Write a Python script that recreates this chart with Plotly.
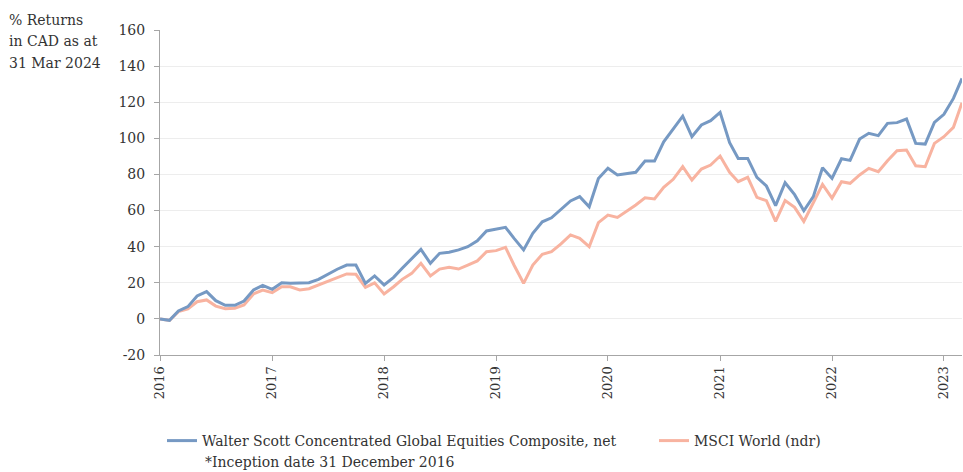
import pandas as pd
import plotly.graph_objects as go

dates = pd.date_range("2016-01-01", periods=87, freq="MS")

walter_scott = [0, -0.8, 4.4, 6.8, 12.7, 15.1, 10.1, 7.5, 7.5, 9.9,
                16.0, 18.6, 16.4, 20.0, 19.7, 19.7, 20.0, 21.9, 24.7, 27.5,
                29.8, 29.8, 19.7, 23.8, 18.8, 23.0, 28.0, 33.5, 38.5, 30.8,
                36.3, 36.9, 38.2, 40.0, 43.3, 48.7, 49.8, 50.7, 44.6, 38.2,
                47.4, 53.8, 56.0, 60.7, 65.3, 67.7, 62.1, 77.8, 83.4, 79.7,
                80.6, 81.2, 87.4, 87.4, 98.1, 105.5, 112.3, 100.9, 107.4, 109.8,
                114.4, 97.6, 88.9, 88.9, 78.4, 73.6, 62.7, 75.4, 68.8, 59.9,
                67.7, 83.7, 77.8, 88.7, 87.8, 99.6, 102.8, 101.5, 108.3, 108.7,
                110.7, 97.2, 96.8, 108.8, 113.3, 122.1, 133.2]

msci_world = [0, -0.8, 4.0, 5.5, 9.5, 10.5, 7.1, 5.6, 5.9, 7.7,
              13.8, 16.0, 14.5, 17.8, 17.8, 16.0, 16.7, 18.8, 20.6, 22.8,
              24.9, 24.7, 17.5, 20.0, 13.8, 17.8, 21.9, 25.2, 30.8, 23.8,
              27.6, 28.6, 27.6, 29.8, 32.1, 37.2, 37.8, 39.6, 29.7, 19.7,
              29.8, 35.8, 37.2, 41.5, 46.5, 44.6, 40.0, 53.3, 57.5, 56.2,
              59.4, 63.1, 67.1, 66.4, 72.9, 77.3, 84.3, 76.9, 83.0, 85.2,
              90.2, 81.2, 76.0, 78.4, 67.3, 65.5, 54.0, 65.5, 61.8, 54.0,
              64.3, 74.5, 66.9, 76.0, 75.1, 79.7, 83.4, 81.5, 87.6, 93.1,
              93.5, 84.8, 84.3, 97.2, 100.9, 106.1, 119.7]

year_labels = ["2016", "2017", "2018", "2019", "2020", "2021", "2022", "2023"]
year_ticks = [f"{y}-01-01" for y in year_labels]

y_ticks = [-20, 0, 20, 40, 60, 80, 100, 120, 140, 160]
y_tick_labels = ["-20", "0", "20", "40", "60", "80", "100", "120", "140", "160"]

series_names = ["Walter Scott Concentrated Global Equities Composite, net", "MSCI World (ndr)"]
axis_title_lines = ["% Returns", "in CAD as at", "31 Mar 2024"]
note = "*Inception date 31 December 2016"

FONT = "DejaVu Serif"
TXT = "#333333"

# full-window figure; the page body margin is removed in post_script
W, H = 963, 472

fig = go.Figure()
fig.add_trace(go.Scatter(x=dates, y=msci_world, mode="lines", name=series_names[1],
                         line=dict(color="#f8b3a0", width=3), legend="legend2"))
fig.add_trace(go.Scatter(x=dates, y=walter_scott, mode="lines", name=series_names[0],
                         line=dict(color="#7699c3", width=3), legend="legend"))

# plot area in page px: x 160..962, y 30..355
PL, PW, PB, PH = 160, 802, 355, 325

annotations = []
for i, line in enumerate(axis_title_lines):
    yc = 20 + i * 21.5
    annotations.append(dict(text=line, xref="paper", yref="paper",
                            x=(7 - PL) / PW, y=(PB - yc) / PH,
                            xanchor="left", yanchor="middle", showarrow=False,
                            font=dict(family=FONT, size=14, color=TXT)))
annotations.append(dict(text=note, xref="paper", yref="paper",
                        x=(203 - PL) / PW, y=(PB - 462) / PH,
                        xanchor="left", yanchor="middle", showarrow=False,
                        font=dict(family=FONT, size=14, color=TXT)))

leg_y = (H - 441) / H
legend_common = dict(orientation="h", xanchor="left", yanchor="middle",
                     xref="container", yref="container", y=leg_y,
                     bgcolor="rgba(0,0,0,0)",
                     font=dict(family=FONT, size=14, color=TXT))

fig.update_layout(
    width=W, height=H,
    margin=dict(l=PL, r=W - (PL + PW), t=30, b=H - PB, autoexpand=False),
    paper_bgcolor="white", plot_bgcolor="white",
    font=dict(family=FONT, size=14, color=TXT),
    showlegend=True,
    legend=dict(x=162 / W, **legend_common),
    legend2=dict(x=654 / W, **legend_common),
    xaxis=dict(
        range=[dates[0], dates[-1]], automargin=False,
        tickvals=year_ticks, ticktext=year_labels, tickangle=-90,
        showgrid=False, zeroline=False,
        showline=True, linecolor="#a6a6a6", linewidth=1,
        ticks="outside", ticklen=5, tickcolor="#a6a6a6",
        tickfont=dict(family=FONT, size=13, color=TXT),
    ),
    yaxis=dict(
        range=[-20, 160], automargin=False,
        tickvals=y_ticks, ticktext=y_tick_labels,
        showgrid=True, gridcolor="#ededed", gridwidth=1, zeroline=False,
        showline=True, linecolor="#a6a6a6", linewidth=1,
        ticks="outside", ticklen=5, tickcolor="#a6a6a6", ticklabelstandoff=6,
        tickfont=dict(family=FONT, size=14, color=TXT),
    ),
    annotations=annotations,
)

fig.write_html(
    "out.html",
    config={"displayModeBar": False},
    post_script="document.body.style.margin='0';document.body.style.overflow='hidden';",
)
